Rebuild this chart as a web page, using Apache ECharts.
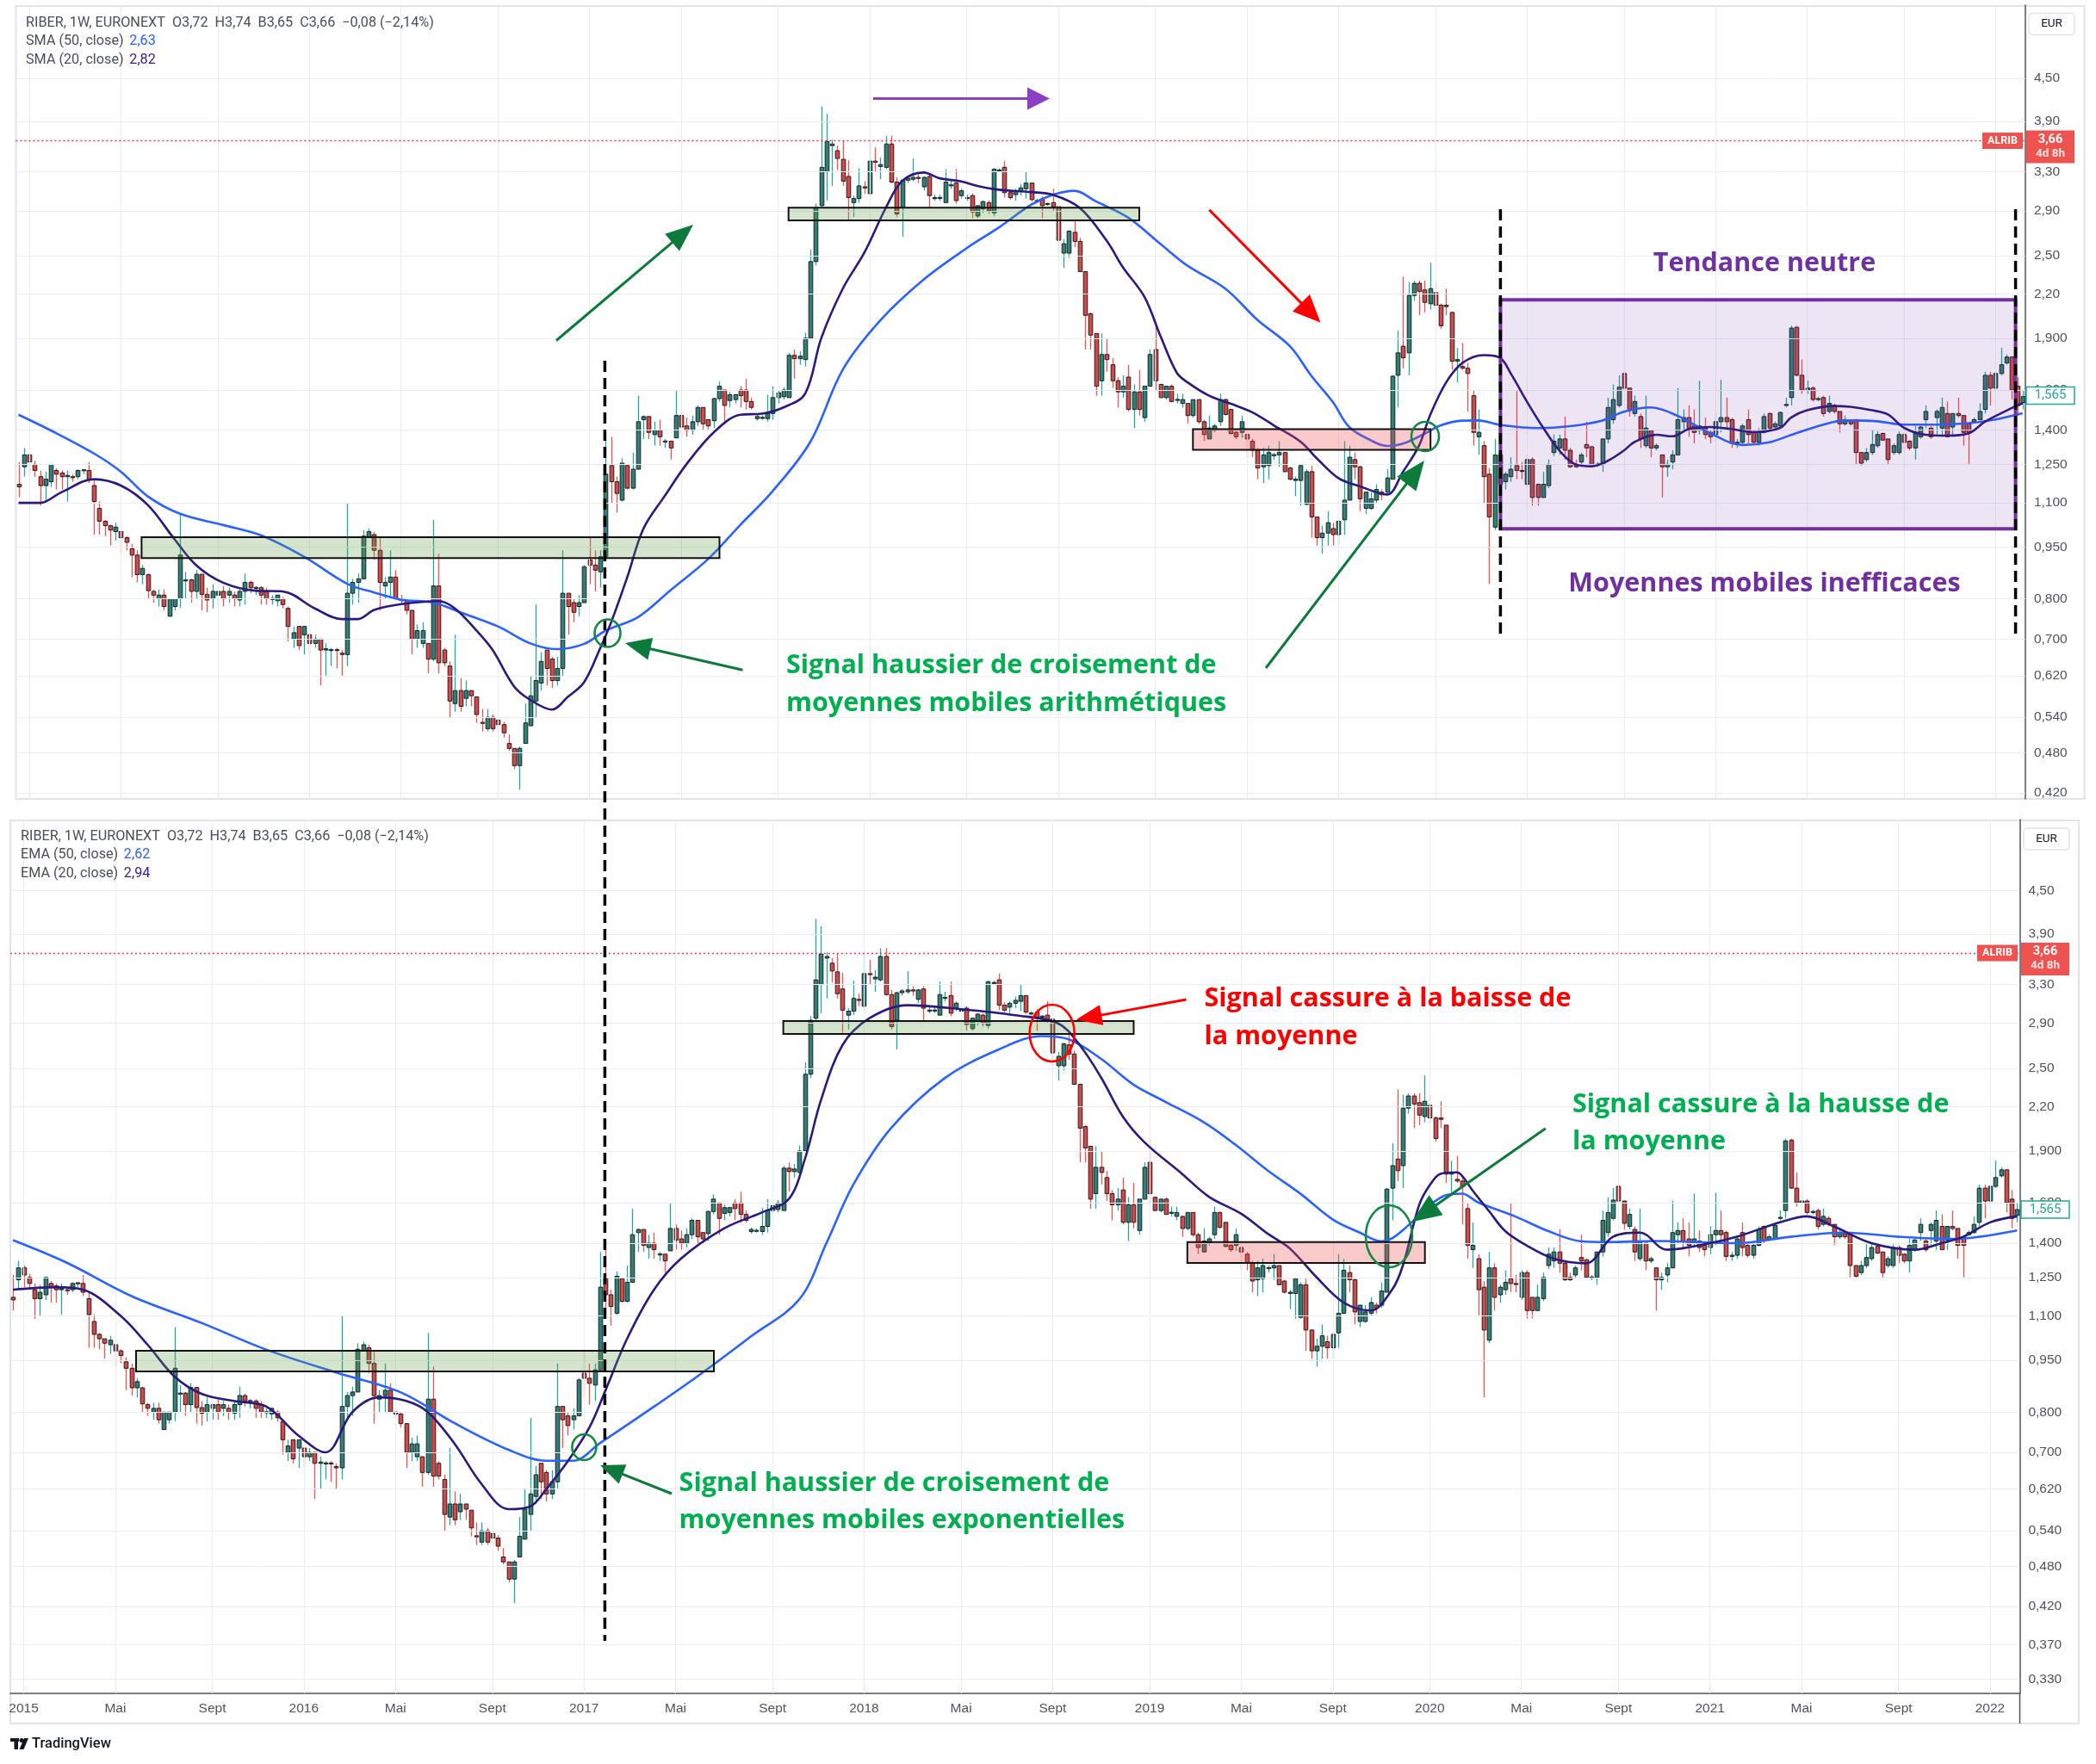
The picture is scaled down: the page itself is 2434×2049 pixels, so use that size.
<!DOCTYPE html>
<html><head><meta charset="utf-8">
<script src="https://cdn.jsdelivr.net/npm/echarts@6/dist/echarts.min.js"></script>
<style>html,body{margin:0;padding:0;background:#fff}#c{width:2434px;height:2049px}</style>
</head><body><div id="c"></div>
<script>
// ---------- DATA (weekly candles, RIBER, from 2014-12-22) ----------
const firstWeek = '2014-12-22';
const opens = [
1.17,1.24,1.29,1.25,1.20,1.165,1.18,1.225,1.215,1.20,
1.20,1.20,1.225,1.225,1.165,1.08,1.035,1.02,1.00,1.00,
0.98,0.945,0.925,0.867,0.867,0.82,0.80,0.81,0.755,0.78,
0.80,0.85,0.852,0.82,0.868,0.812,0.80,0.81,0.82,0.81,
0.81,0.797,0.82,0.845,0.83,0.83,0.82,0.80,0.795,0.80,
0.775,0.70,0.73,0.71,0.71,0.69,0.70,0.675,0.675,0.676,
0.668,0.665,0.815,0.845,0.855,0.98,0.99,0.94,0.835,0.845,
0.86,0.80,0.795,0.77,0.70,0.69,0.69,0.655,0.835,0.675,
0.64,0.565,0.59,0.575,0.59,0.578,0.531,0.52,0.54,0.535,
0.527,0.495,0.487,0.46,0.495,0.525,0.57,0.605,0.675,0.655,
0.61,0.635,0.815,0.79,0.78,0.79,0.91,0.895,0.875,0.92,
1.245,1.18,1.11,1.245,1.155,1.23,1.45,1.465,1.38,1.40,
1.35,1.35,1.365,1.47,1.42,1.40,1.44,1.51,1.45,1.445,
1.555,1.60,1.545,1.55,1.60,1.60,1.54,1.455,1.46,1.455,
1.48,1.56,1.565,1.56,1.795,1.775,1.77,1.90,2.45,2.95,
3.30,3.60,3.54,3.44,3.25,2.98,3.02,3.14,3.07,3.42,
3.36,3.35,3.62,3.19,2.93,3.21,3.22,3.24,3.14,3.25,
3.02,3.03,2.98,3.16,3.18,3.05,3.03,3.05,2.85,2.92,
2.98,2.88,3.32,3.35,3.08,3.06,3.10,3.12,3.18,3.00,
3.01,2.97,2.98,2.94,2.52,2.52,2.70,2.62,2.37,2.06,
1.93,1.65,1.80,1.74,1.65,1.59,1.67,1.50,1.59,1.46,
1.62,1.83,1.63,1.56,1.62,1.55,1.53,1.53,1.47,1.55,
1.44,1.36,1.40,1.44,1.55,1.50,1.39,1.39,1.38,1.35,
1.31,1.24,1.245,1.29,1.29,1.30,1.235,1.185,1.185,1.095,
1.22,1.05,0.98,0.995,1.01,0.99,1.04,1.11,1.27,1.24,
1.08,1.08,1.11,1.14,1.14,1.19,1.68,1.85,1.81,2.19,
2.28,2.23,2.13,2.21,2.12,2.12,2.07,1.76,1.73,1.72,
1.57,1.37,1.33,1.21,1.015,1.29,1.18,1.20,1.245,1.225,
1.17,1.27,1.17,1.12,1.165,1.30,1.32,1.36,1.31,1.25,
1.26,1.335,1.325,1.25,1.25,1.36,1.45,1.52,1.69,1.61,
1.48,1.465,1.33,1.40,1.32,1.29,1.24,1.26,1.29,1.44,
1.46,1.42,1.40,1.41,1.39,1.38,1.44,1.46,1.45,1.34,
1.345,1.45,1.39,1.345,1.39,1.48,1.415,1.42,1.52,1.56,
1.97,1.68,1.60,1.61,1.55,1.56,1.49,1.52,1.49,1.43,
1.445,1.45,1.30,1.27,1.30,1.33,1.385,1.36,1.30,1.30,
1.38,1.35,1.32,1.37,1.45,1.41,1.46,1.41,1.48,1.415,
1.48,1.47,1.43,1.44,1.45,1.50,1.68,1.61,1.69,1.75,1.785,1.62,1.535];
const highs = [
1.26,1.32,1.30,1.265,1.225,1.22,1.25,1.235,1.225,1.225,
1.21,1.23,1.23,1.26,1.19,1.105,1.04,1.02,1.03,1.00,
0.985,0.96,0.94,0.895,0.87,0.825,0.825,0.825,0.80,0.80,
1.06,0.875,0.855,0.88,0.868,0.83,0.84,0.82,0.835,0.83,
0.82,0.83,0.87,0.85,0.835,0.835,0.83,0.81,0.81,0.805,
0.78,0.73,0.73,0.73,0.715,0.71,0.70,0.69,0.68,0.68,
0.675,1.10,0.855,0.87,1.005,1.01,1.00,0.98,0.86,0.94,
0.88,0.81,0.80,0.77,0.735,0.74,0.69,1.04,0.93,0.68,
0.65,0.71,0.615,0.61,0.59,0.578,0.555,0.555,0.545,0.537,
0.532,0.51,0.487,0.49,0.565,0.62,0.785,0.67,0.675,0.66,
0.66,0.94,0.815,0.80,0.81,0.895,0.98,0.94,0.94,1.36,
1.37,1.20,1.275,1.25,1.30,1.57,1.47,1.465,1.44,1.45,
1.36,1.35,1.60,1.49,1.46,1.47,1.52,1.51,1.45,1.56,
1.645,1.60,1.59,1.58,1.62,1.66,1.56,1.475,1.47,1.575,
1.62,1.60,1.615,1.81,1.83,1.82,1.935,2.55,2.97,4.10,
4.00,3.67,3.60,3.66,3.43,3.05,3.34,3.20,3.67,3.58,
3.46,3.72,3.72,3.24,3.22,3.25,3.45,3.28,3.25,3.28,
3.06,3.06,3.33,3.22,3.33,3.12,3.06,3.07,2.95,3.00,
3.00,3.34,3.34,3.42,3.11,3.12,3.17,3.30,3.18,3.02,
3.04,2.98,3.12,2.96,2.64,2.72,2.82,2.65,2.37,2.07,
1.93,1.93,1.90,1.78,1.67,1.68,1.74,1.63,1.71,1.62,
1.83,1.98,1.63,1.62,1.63,1.58,1.58,1.53,1.55,1.55,
1.45,1.47,1.43,1.58,1.555,1.50,1.40,1.47,1.38,1.36,
1.32,1.32,1.33,1.30,1.35,1.30,1.24,1.20,1.25,1.23,
1.245,1.05,1.02,1.07,1.03,1.035,1.35,1.33,1.30,1.245,
1.14,1.14,1.17,1.15,1.23,1.68,1.95,2.33,2.29,2.30,
2.30,2.30,2.44,2.29,2.13,2.24,2.07,1.84,1.87,1.75,
1.60,1.50,1.35,1.235,1.36,1.31,1.22,1.28,1.60,1.26,
1.28,1.28,1.17,1.22,1.27,1.38,1.38,1.465,1.32,1.27,
1.30,1.44,1.33,1.26,1.36,1.56,1.63,1.68,1.70,1.61,
1.57,1.48,1.57,1.40,1.34,1.29,1.27,1.31,1.61,1.50,
1.52,1.50,1.65,1.46,1.40,1.48,1.655,1.56,1.46,1.36,
1.43,1.50,1.40,1.41,1.48,1.485,1.44,1.49,1.56,1.98,
1.98,1.77,1.65,1.62,1.565,1.57,1.57,1.53,1.49,1.47,
1.45,1.45,1.30,1.32,1.40,1.395,1.39,1.36,1.34,1.395,
1.39,1.355,1.42,1.42,1.52,1.42,1.50,1.56,1.54,1.48,
1.56,1.47,1.43,1.46,1.53,1.70,1.70,1.70,1.84,1.80,1.79,1.67,1.60];
const lows = [
1.12,1.20,1.21,1.20,1.09,1.10,1.16,1.15,1.15,1.105,
1.18,1.19,1.21,1.175,0.99,0.99,0.985,0.955,0.97,0.93,
0.94,0.86,0.845,0.84,0.80,0.79,0.78,0.77,0.755,0.77,
0.776,0.80,0.79,0.80,0.77,0.765,0.775,0.78,0.78,0.79,
0.78,0.78,0.785,0.815,0.81,0.785,0.785,0.785,0.78,0.775,
0.695,0.68,0.675,0.665,0.665,0.68,0.60,0.62,0.64,0.635,
0.62,0.64,0.785,0.79,0.855,0.98,0.91,0.77,0.80,0.80,
0.80,0.785,0.76,0.665,0.68,0.68,0.625,0.65,0.625,0.64,
0.54,0.55,0.55,0.56,0.56,0.53,0.515,0.515,0.515,0.515,
0.505,0.483,0.455,0.425,0.495,0.525,0.54,0.59,0.60,0.595,
0.60,0.62,0.71,0.74,0.755,0.79,0.84,0.82,0.83,0.915,
1.10,1.065,1.105,1.15,1.15,1.23,1.36,1.36,1.33,1.33,
1.32,1.27,1.365,1.37,1.37,1.38,1.42,1.40,1.40,1.41,
1.54,1.44,1.51,1.53,1.51,1.50,1.50,1.445,1.45,1.44,
1.45,1.53,1.55,1.56,1.66,1.74,1.73,1.90,2.42,2.93,
3.00,3.15,3.32,3.15,2.81,2.84,2.98,3.07,3.06,3.30,
3.22,3.33,3.18,2.84,2.66,3.18,3.20,3.18,3.10,2.93,
3.00,3.00,2.98,3.12,2.97,3.02,3.00,2.83,2.83,2.88,
2.87,2.85,3.30,3.03,3.01,3.00,3.05,3.02,2.99,2.98,
2.83,2.95,2.90,2.52,2.40,2.48,2.57,2.37,1.83,1.83,
1.57,1.57,1.70,1.61,1.51,1.56,1.49,1.41,1.47,1.44,
1.62,1.60,1.56,1.55,1.54,1.53,1.51,1.43,1.46,1.43,
1.35,1.36,1.39,1.42,1.47,1.38,1.36,1.365,1.28,1.28,
1.19,1.175,1.19,1.27,1.24,1.22,1.185,1.125,1.09,1.09,
0.98,0.955,0.93,0.955,0.955,0.955,0.99,1.11,1.19,1.07,
1.06,1.075,1.10,1.11,1.13,1.19,1.51,1.72,1.68,2.15,
2.05,2.07,2.09,2.09,1.96,2.05,1.71,1.64,1.71,1.49,
1.33,1.29,1.10,0.84,1.005,1.12,1.15,1.18,1.19,1.19,
1.16,1.09,1.09,1.12,1.155,1.285,1.29,1.27,1.235,1.235,
1.245,1.28,1.25,1.24,1.22,1.34,1.43,1.51,1.60,1.465,
1.465,1.32,1.32,1.28,1.31,1.12,1.20,1.23,1.29,1.40,
1.37,1.34,1.38,1.36,1.34,1.35,1.39,1.40,1.32,1.32,
1.33,1.34,1.335,1.33,1.385,1.40,1.41,1.415,1.51,1.52,
1.675,1.58,1.58,1.54,1.54,1.465,1.48,1.48,1.39,1.42,
1.42,1.25,1.245,1.26,1.29,1.32,1.35,1.25,1.29,1.29,
1.31,1.31,1.27,1.36,1.41,1.36,1.38,1.37,1.37,1.37,
1.46,1.33,1.25,1.44,1.445,1.48,1.52,1.60,1.68,1.74,1.55,1.47,1.50];
const closes = [
1.16,1.29,1.26,1.225,1.165,1.19,1.25,1.21,1.20,1.205,
1.198,1.225,1.228,1.19,1.105,1.035,1.02,1.005,1.015,0.98,
0.965,0.925,0.867,0.885,0.822,0.81,0.81,0.78,0.80,0.80,
0.925,0.852,0.82,0.868,0.812,0.797,0.82,0.82,0.80,0.82,
0.80,0.82,0.845,0.83,0.831,0.81,0.80,0.801,0.81,0.785,
0.73,0.715,0.685,0.73,0.69,0.70,0.675,0.678,0.676,0.675,
0.665,0.815,0.845,0.855,0.985,1.00,0.94,0.845,0.845,0.86,
0.80,0.795,0.77,0.70,0.72,0.72,0.655,0.835,0.647,0.647,
0.57,0.59,0.56,0.59,0.58,0.545,0.53,0.54,0.52,0.527,
0.513,0.487,0.46,0.487,0.53,0.58,0.61,0.65,0.635,0.61,
0.635,0.815,0.78,0.765,0.79,0.89,0.895,0.88,0.92,1.21,
1.18,1.135,1.255,1.155,1.23,1.44,1.465,1.39,1.40,1.37,
1.351,1.32,1.47,1.415,1.40,1.44,1.51,1.43,1.42,1.555,
1.62,1.52,1.575,1.575,1.57,1.54,1.51,1.465,1.461,1.48,
1.56,1.585,1.60,1.795,1.775,1.79,1.90,2.45,2.93,3.35,
3.65,3.62,3.45,3.20,3.03,3.02,3.15,3.13,3.42,3.415,
3.38,3.62,3.19,2.87,3.21,3.23,3.24,3.23,3.24,3.05,
3.03,3.031,3.19,3.161,3.00,3.10,3.031,2.89,2.95,2.99,
2.90,3.33,3.321,3.08,3.03,3.10,3.13,3.18,3.01,3.001,
2.95,2.971,2.94,2.63,2.60,2.71,2.62,2.37,2.05,1.92,
1.62,1.80,1.77,1.65,1.59,1.62,1.50,1.59,1.50,1.62,
1.80,1.65,1.56,1.62,1.54,1.551,1.55,1.47,1.55,1.44,
1.38,1.41,1.42,1.55,1.475,1.385,1.37,1.44,1.36,1.31,
1.235,1.29,1.30,1.291,1.30,1.22,1.19,1.19,1.245,1.22,
1.05,0.98,0.995,1.03,0.99,1.035,1.11,1.28,1.24,1.115,
1.14,1.115,1.15,1.13,1.195,1.675,1.81,1.78,2.19,2.28,
2.22,2.14,2.24,2.12,1.98,2.11,1.76,1.77,1.72,1.69,
1.39,1.39,1.20,1.05,1.29,1.17,1.21,1.23,1.225,1.224,
1.27,1.12,1.12,1.17,1.25,1.35,1.36,1.31,1.24,1.24,
1.29,1.32,1.25,1.251,1.36,1.51,1.55,1.615,1.61,1.495,
1.54,1.36,1.41,1.32,1.33,1.24,1.25,1.29,1.45,1.46,
1.41,1.39,1.42,1.38,1.37,1.44,1.46,1.44,1.34,1.345,
1.42,1.38,1.345,1.39,1.465,1.41,1.43,1.485,1.525,1.965,
1.68,1.60,1.61,1.55,1.555,1.48,1.53,1.49,1.43,1.45,
1.43,1.30,1.255,1.30,1.335,1.38,1.355,1.27,1.33,1.38,
1.345,1.32,1.39,1.415,1.49,1.37,1.49,1.51,1.37,1.48,
1.47,1.39,1.39,1.45,1.49,1.68,1.61,1.69,1.74,1.785,1.60,1.52,1.565];

// moving averages: [week index, value]
const sma50 = [[0,1.474],[6,1.399],[14,1.296],[19,1.22],[24,1.124],[30,1.061],[38,1.022],[45,0.988],[53,0.92],[61,0.841],[66,0.817],[71,0.798],[77,0.79],[82,0.765],[89,0.73],[95,0.69],[100,0.677],[105,0.689],[109,0.72],[115,0.753],[121,0.823],[128,0.913],[134,1.023],[140,1.144],[147,1.348],[153,1.712],[160,2.017],[168,2.308],[176,2.562],[182,2.745],[188,2.96],[192,3.058],[196,3.099],[200,2.992],[206,2.834],[212,2.596],[217,2.417],[224,2.24],[230,2.018],[236,1.85],[240,1.676],[244,1.536],[247,1.415],[251,1.354],[254,1.329],[257,1.339],[261,1.384],[264,1.423],[268,1.445],[271,1.446],[275,1.425],[282,1.41],[288,1.419],[294,1.446],[298,1.489],[303,1.51],[308,1.468],[314,1.386],[320,1.333],[325,1.345],[329,1.378],[335,1.426],[339,1.446],[345,1.442],[350,1.426],[356,1.426],[362,1.433],[367,1.451],[372,1.481]];
const sma20 = [[0,1.10],[4,1.10],[8,1.14],[14,1.19],[19,1.165],[24,1.092],[29,0.974],[33,0.894],[38,0.844],[44,0.822],[49,0.82],[55,0.775],[60,0.748],[63,0.748],[66,0.771],[71,0.786],[78,0.794],[81,0.775],[85,0.72],[88,0.675],[92,0.598],[95,0.572],[99,0.554],[102,0.578],[105,0.607],[108,0.68],[110,0.74],[113,0.86],[116,1.01],[120,1.127],[124,1.251],[129,1.389],[134,1.474],[138,1.479],[142,1.51],[146,1.58],[149,1.9],[153,2.24],[157,2.524],[161,2.93],[164,3.2],[168,3.293],[171,3.23],[175,3.197],[178,3.149],[182,3.11],[188,3.086],[192,3.058],[197,2.927],[202,2.624],[205,2.404],[209,2.179],[212,1.911],[215,1.694],[217,1.641],[221,1.57],[226,1.519],[229,1.486],[233,1.423],[238,1.347],[241,1.275],[245,1.194],[249,1.162],[254,1.131],[257,1.22],[260,1.332],[262,1.471],[265,1.641],[268,1.75],[272,1.796],[275,1.78],[277,1.69],[280,1.539],[283,1.412],[286,1.309],[289,1.25],[292,1.242],[295,1.265],[298,1.309],[300,1.347],[304,1.379],[307,1.372],[310,1.405],[314,1.415],[318,1.405],[322,1.391],[327,1.411],[329,1.46],[332,1.496],[337,1.517],[340,1.513],[344,1.496],[347,1.475],[350,1.411],[354,1.379],[358,1.375],[362,1.386],[365,1.44],[370,1.507],[372,1.532]];
const ema50 = [[0,1.414],[10,1.312],[22,1.175],[35,1.075],[47,0.984],[60,0.912],[72,0.854],[82,0.771],[92,0.706],[99,0.681],[104,0.681],[109,0.722],[117,0.795],[127,0.90],[137,1.028],[146,1.163],[151,1.40],[156,1.70],[163,2.05],[173,2.42],[183,2.66],[191,2.78],[196,2.75],[202,2.578],[208,2.367],[214,2.235],[221,2.091],[227,1.938],[233,1.779],[239,1.649],[245,1.514],[250,1.45],[254,1.409],[256,1.423],[259,1.485],[263,1.587],[266,1.641],[269,1.65],[272,1.602],[279,1.528],[285,1.457],[291,1.409],[296,1.405],[305,1.41],[320,1.40],[330,1.43],[340,1.45],[350,1.43],[360,1.42],[372,1.46]];
const ema20 = [[0,1.20],[8,1.21],[13,1.20],[20,1.10],[25,1.00],[30,0.90],[35,0.85],[41,0.83],[47,0.815],[53,0.74],[58,0.70],[63,0.80],[68,0.84],[73,0.83],[77,0.80],[82,0.72],[87,0.63],[92,0.58],[96,0.585],[99,0.62],[103,0.68],[107,0.76],[110,0.86],[114,1.02],[119,1.20],[124,1.33],[132,1.47],[139,1.55],[144,1.62],[147,1.85],[150,2.25],[154,2.70],[159,2.95],[166,3.08],[176,3.04],[186,2.98],[194,2.90],[198,2.70],[202,2.423],[206,2.131],[210,1.957],[217,1.762],[222,1.633],[228,1.543],[233,1.443],[237,1.376],[242,1.25],[247,1.15],[252,1.12],[256,1.20],[258,1.30],[261,1.587],[263,1.697],[265,1.762],[268,1.77],[269,1.75],[271,1.665],[274,1.557],[277,1.457],[281,1.389],[286,1.33],[292,1.31],[297,1.43],[302,1.45],[307,1.37],[315,1.40],[320,1.43],[328,1.50],[333,1.53],[338,1.48],[345,1.40],[353,1.37],[358,1.40],[362,1.43],[367,1.50],[372,1.53]];

const upperTicks = [4.5,3.9,3.3,2.9,2.5,2.2,1.9,1.6,1.4,1.25,1.1,0.95,0.8,0.7,0.62,0.54,0.48,0.42];
const upperTickLabels = ['4,50','3,90','3,30','2,90','2,50','2,20','1,900','1,600','1,400','1,250','1,100','0,950','0,800','0,700','0,620','0,540','0,480','0,420'];
const lowerTicks = [4.5,3.9,3.3,2.9,2.5,2.2,1.9,1.6,1.4,1.25,1.1,0.95,0.8,0.7,0.62,0.54,0.48,0.42,0.37,0.33];
const lowerTickLabels = ['4,50','3,90','3,30','2,90','2,50','2,20','1,900','1,600','1,400','1,250','1,100','0,950','0,800','0,700','0,620','0,540','0,480','0,420','0,370','0,330'];
const monthNames = {1:null, 5:'Mai', 9:'Sept'};
const alertPrice = 3.66;
const lastPrice = 1.565;

// ---------- BUILD ----------
const dates = [];
{ let t = Date.parse(firstWeek + 'T00:00:00Z');
  for (let k = 0; k < opens.length; k++) { dates.push(new Date(t).toISOString().slice(0,10)); t += 7*864e5; } }
function isLabel(idx){ if(idx===0) return false; const m=+dates[idx].slice(5,7), pm=+dates[idx-1].slice(5,7); return m!==pm && (m in monthNames); }
function fmtLabel(v){ const m=+v.slice(5,7); return m===1 ? v.slice(0,4) : monthNames[m]; }
const candleData = opens.map((o,k)=>[k, o, closes[k], lows[k], highs[k]]);
const vLines = dates.filter((d,k)=>isLabel(k));

const FONT_AX = '"Liberation Sans", "DejaVu Sans", sans-serif';
const GRID_C = '#e8edf4';

function renderCandle(params, api){
  const i=api.value(0), o=api.value(1), c=api.value(2), l=api.value(3), h=api.value(4);
  const pO=api.coord([i,o]), pC=api.coord([i,c]), pL=api.coord([i,l]), pH=api.coord([i,h]);
  const x=Math.round(pO[0])+0.5, up=c>=o, w=4.6;
  const top=Math.min(pO[1],pC[1]), bot=Math.max(pO[1],pC[1]);
  return {type:'group', children:[
    {type:'line', shape:{x1:x,y1:pH[1],x2:x,y2:pL[1]}, style:{stroke: up?'#26a69a':'#ef5350', lineWidth:1.3}},
    {type:'rect', shape:{x:x-w/2,y:top,width:w,height:Math.max(bot-top,1.2)}, style:{fill: up?'#2c8279':'#d6474a', stroke:'#1e1e1e', lineWidth:1}}
  ]};
}

function helper(gi, ticks, tickLabels){
  const data = ticks.map((v,k)=>({yAxis:v, label:{formatter:tickLabels[k]}}));
  vLines.forEach(d=>data.push({xAxis:d, label:{show:false}}));
  return {type:'line', xAxisIndex:gi, yAxisIndex:gi, data:[], z:1, silent:true,
    markLine:{silent:true, symbol:['none','none'], animation:false, precision:4,
      lineStyle:{color:GRID_C, type:'solid', width:1},
      label:{show:true, position:'end', distance:10, color:'#4f525c', fontSize:15.5, fontFamily:FONT_AX},
      data}};
}
function alertLine(gi){
  return {type:'line', xAxisIndex:gi, yAxisIndex:gi, data:[], z:2, silent:true,
    markLine:{silent:true, symbol:['none','none'], animation:false,
      lineStyle:{color:'#f23645', type:[2,3], width:1.4}, label:{show:false},
      data:[{yAxis:alertPrice}]}};
}
function maSeries(gi, data, color){
  return {type:'line', xAxisIndex:gi, yAxisIndex:gi, data, smooth:0.35, showSymbol:false, z:5, silent:true,
    lineStyle:{color, width:2.6}};
}

// ---------- ANNOTATIONS (pixel space) ----------
const G = [];
function arrow(x1,y1,x2,y2,color,w,hl,hw){
  const dx=x2-x1, dy=y2-y1, L=Math.hypot(dx,dy), ux=dx/L, uy=dy/L;
  const bx=x2-ux*hl, by=y2-uy*hl;
  G.push({type:'line', z:100, silent:true, shape:{x1,y1,x2:bx+ux*2,y2:by+uy*2}, style:{stroke:color, lineWidth:w}});
  G.push({type:'polygon', z:100, silent:true, shape:{points:[[x2,y2],[bx-uy*hw,by+ux*hw],[bx+uy*hw,by-ux*hw]]}, style:{fill:color}});
}
function box(x1,y1,x2,y2,fill,stroke,lw){ G.push({type:'rect', z:90, silent:true, shape:{x:x1,y:y1,width:x2-x1,height:y2-y1}, style:{fill, stroke, lineWidth:lw}}); }
function ell(cx,cy,rx,ry,color,lw){ G.push({type:'ellipse', z:100, silent:true, shape:{cx,cy,rx,ry}, style:{fill:null, stroke:color, lineWidth:lw}}); }
function dashV(x,y1,y2){ G.push({type:'line', z:100, silent:true, shape:{x1:x,y1,x2:x,y2}, style:{stroke:'#000', lineWidth:3.5, lineDash:[13,7]}}); }
function txt(x,y,s,color,align){ G.push({type:'text', z:110, silent:true, x, y, style:{text:s, fill:color, font:'700 30.5px "Open Sans", sans-serif', textAlign:align||'left', textVerticalAlign:'middle'}}); }
function small(x,y,s,color,size,align,weight){ G.push({type:'text', z:110, silent:true, x, y, style:{text:s, fill:color, font:(weight||400)+' '+(size||15)+'px Roboto, sans-serif', textAlign:align||'left', textVerticalAlign:'middle'}}); }

const GREEN_T='#00b050', GREEN_A='#0b7a3b', GREEN_C='#138a44', RED='#ff0000', PURPLE='#7030a0';

// panel frames
G.push({type:'rect', z:0, silent:true, shape:{x:18.5,y:7,width:2402,height:921}, style:{fill:null, stroke:'#e0e3eb', lineWidth:2}});
G.push({type:'rect', z:0, silent:true, shape:{x:12,y:953,width:2402,height:1049}, style:{fill:null, stroke:'#e0e3eb', lineWidth:2}});
G.push({type:'line', z:0, silent:true, shape:{x1:2345.5,y1:1967,x2:2345.5,y2:2002}, style:{stroke:'#50535e', lineWidth:1.5}});

// upper panel annotations
box(164.4,624,835.5,648.3,'rgba(100,160,70,0.27)','#111',2);
box(915.7,241.2,1323,255.9,'rgba(100,160,70,0.27)','#111',2);
box(1385.3,498.5,1661.2,522.6,'rgba(240,80,80,0.30)','#111',2);
box(1742.4,348.3,2340.6,614.3,'rgba(112,48,160,0.125)',PURPLE,4);
dashV(702.4,419,1906);
dashV(1742.4,243,736);
dashV(2340.6,243,742);
arrow(1014,114.5,1219,114.5,'#8b3fc6',3.2,26,13);
arrow(646,395.5,805,261,GREEN_A,3,32,13);
arrow(1404.3,243.7,1533.5,374.7,RED,3,32,14);
arrow(862.4,778.3,726,747,GREEN_A,3,30,13);
arrow(1470,776,1654,535,GREEN_A,3,34,14);
ell(705.5,735.5,15,16,GREEN_C,2.6);
ell(1655,507,16,17,GREEN_C,2.6);
txt(913,773.3,'Signal haussier de croisement de',GREEN_T);
txt(913,817.3,'moyennes mobiles arithmétiques',GREEN_T);
txt(2049,305.9,'Tendance neutre',PURPLE,'center');
txt(2049,678,'Moyennes mobiles inefficaces',PURPLE,'center');

// lower panel annotations
box(158,1569,829,1593,'rgba(100,160,70,0.27)','#111',2);
box(909.6,1186,1316.5,1201,'rgba(100,160,70,0.27)','#111',2);
box(1378.8,1442.8,1654.7,1466.9,'rgba(240,80,80,0.30)','#111',2);
ell(678.4,1681,14,15,GREEN_C,2.6);
ell(1221.7,1200,26,33,RED,2.6);
ell(1613,1436,27,36,GREEN_C,2.6);
arrow(780,1735,697,1702,GREEN_A,3,28,12);
arrow(1377.6,1161,1249.6,1184.4,RED,3,30,12);
arrow(1794.8,1310.7,1639.7,1419.3,GREEN_A,3,34,14);
txt(788.6,1723,'Signal haussier de croisement de',GREEN_T);
txt(788.6,1766.5,'moyennes mobiles exponentielles',GREEN_T);
txt(1398.5,1160.5,'Signal cassure à la baisse de',RED);
txt(1398.5,1204.5,'la moyenne',RED);
txt(1826,1283.4,'Signal cassure à la hausse de',GREEN_T);
txt(1826,1326.5,'la moyenne',GREEN_T);

// legends
function legend(x,y0,kind,v50,v20){
  small(x,y0,'RIBER, 1W, EURONEXT  O3,72  H3,74  B3,65  C3,66  −0,08 (−2,14%)','#4a4e59',16.2);
  G.push({type:'text', z:110, silent:true, x, y:y0+21.7, style:{text:'{a|'+kind+' (50, close)}  {b|'+v50+'}', rich:{a:{fill:'#4a4e59',font:'16.2px Roboto, sans-serif'}, b:{fill:'#2962ff',font:'16.2px Roboto, sans-serif'}}, textVerticalAlign:'middle'}});
  G.push({type:'text', z:110, silent:true, x, y:y0+43.4, style:{text:'{a|'+kind+' (20, close)}  {b|'+v20+'}', rich:{a:{fill:'#4a4e59',font:'16.2px Roboto, sans-serif'}, b:{fill:'#311b92',font:'16.2px Roboto, sans-serif'}}, textVerticalAlign:'middle'}});
}
legend(30,26.5,'SMA','2,63','2,82');
legend(24,971.5,'EMA','2,62','2,94');

// price-axis badges
function axisBadges(axX, eurY, alertY, lastY){
  G.push({type:'rect', z:110, silent:true, shape:{x:axX+4,y:eurY,width:53,height:25,r:4}, style:{fill:'#fff', stroke:'#e0e3eb', lineWidth:1.5}});
  small(axX+30.5,eurY+12.5,'EUR','#131722',13.5,'center');
  G.push({type:'rect', z:110, silent:true, shape:{x:axX-50,y:alertY-9.5,width:47,height:19}, style:{fill:'#ef5350'}});
  small(axX-26.5,alertY,'ALRIB','#fff',12.5,'center',700);
  G.push({type:'rect', z:110, silent:true, shape:{x:axX+1,y:alertY-12,width:56,height:38}, style:{fill:'#ef5350'}});
  small(axX+29,alertY-1.5,'3,66','#fff',14.5,'center',700);
  small(axX+29,alertY+15,'4d 8h','#fde3e3',13.5,'center',700);
  G.push({type:'rect', z:110, silent:true, shape:{x:axX+1,y:lastY-10,width:56,height:20}, style:{fill:'#fff', stroke:'#26a69a', lineWidth:1.5}});
  small(axX+29,lastY,'1,565','#26a69a',15,'center');
}
axisBadges(2352,15.5,163.4,459.5);
axisBadges(2346,962,1107,1405);

// TradingView logo
G.push({type:'rect', z:110, silent:true, shape:{x:12,y:2019,width:10,height:4}, style:{fill:'#131722'}});
G.push({type:'rect', z:110, silent:true, shape:{x:16.5,y:2019,width:4.5,height:13}, style:{fill:'#131722'}});
G.push({type:'circle', z:110, silent:true, shape:{cx:25,cy:2021.5,r:2.5}, style:{fill:'#131722'}});
G.push({type:'polygon', z:110, silent:true, shape:{points:[[28,2019],[33,2019],[27.5,2032],[22.5,2032]]}, style:{fill:'#131722'}});
small(37,2026,'TradingView','#131722',16.5,'left',500);

// ---------- CHART ----------
const chart = echarts.init(document.getElementById('c'), null, {renderer:'canvas'});
const axBase = {type:'category', data:dates, boundaryGap:true, axisTick:{show:false}, splitLine:{show:false}};
chart.setOption({
  animation:false,
  backgroundColor:'#ffffff',
  grid:[{left:18.4, top:6, width:2333.5, height:922}, {left:11.9, top:952, width:2333.5, height:1015}],
  xAxis:[
    Object.assign({gridIndex:0, axisLine:{show:false}, axisLabel:{show:false}}, axBase),
    Object.assign({gridIndex:1, axisLine:{show:true, lineStyle:{color:'#50535e', width:1.5}},
      axisLabel:{show:true, interval:(idx)=>isLabel(idx), formatter:fmtLabel, color:'#50535e', fontSize:15.5, fontFamily:FONT_AX, margin:10}}, axBase)
  ],
  yAxis:[
    {type:'log', gridIndex:0, min:0.41182, max:5.7383, position:'right', axisLine:{show:true, lineStyle:{color:'#50535e', width:1.5}}, axisTick:{show:false}, axisLabel:{show:false}, splitLine:{show:false}},
    {type:'log', gridIndex:1, min:0.31499, max:5.6969, position:'right', axisLine:{show:true, lineStyle:{color:'#50535e', width:1.5}}, axisTick:{show:false}, axisLabel:{show:false}, splitLine:{show:false}}
  ],
  series:[
    helper(0, upperTicks, upperTickLabels),
    helper(1, lowerTicks, lowerTickLabels),
    alertLine(0),
    alertLine(1),
    {type:'custom', xAxisIndex:0, yAxisIndex:0, data:candleData, renderItem:renderCandle, encode:{x:0, y:[1,2,3,4]}, z:3, clip:true, silent:true},
    {type:'custom', xAxisIndex:1, yAxisIndex:1, data:candleData, renderItem:renderCandle, encode:{x:0, y:[1,2,3,4]}, z:3, clip:true, silent:true},
    maSeries(0, sma50, '#2962ff'),
    maSeries(0, sma20, '#2a1a80'),
    maSeries(1, ema50, '#2962ff'),
    maSeries(1, ema20, '#2a1a80')
  ],
  graphic:{elements:G}
});
</script></body></html>
